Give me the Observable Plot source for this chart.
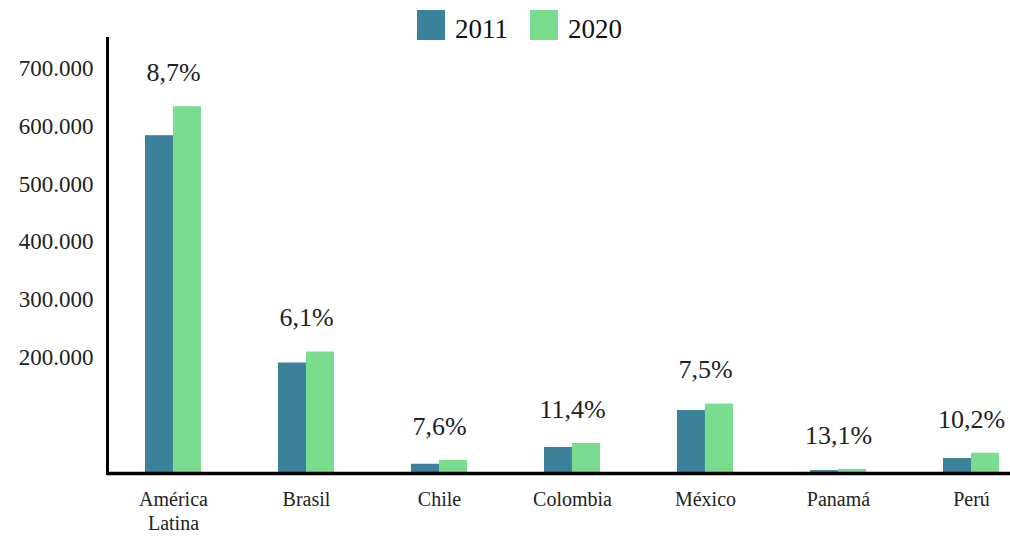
<!DOCTYPE html>
<html>
<head>
<meta charset="utf-8">
<script src="https://cdn.jsdelivr.net/npm/d3@7"></script>
<script src="https://cdn.jsdelivr.net/npm/@observablehq/plot@0.6"></script>
<style>
  html, body { margin: 0; padding: 0; background: #fff; }
  #wrap { position: relative; width: 1010px; height: 537px; }
  #legend { position: absolute; top: 10px; left: 417px; display: flex; align-items: flex-end;
            font-family: 'Liberation Serif', 'Times New Roman', 'DejaVu Serif', serif; font-size: 27px; color: #111; }
  #legend .item { display: flex; align-items: flex-end; margin-right: 22px; }
  #legend .sw { width: 28px; height: 30px; margin-right: 10px; }
  #legend .lab { line-height: 1; margin-bottom: -3px; }
  svg text { font-family: 'Liberation Serif', 'Times New Roman', 'DejaVu Serif', serif; }
</style>
</head>
<body>
<div id="wrap"><div id="legend"></div></div>
<script>
const countries = ["América Latina", "Brasil", "Chile", "Colombia", "México", "Panamá", "Perú"];
const years = ["2011", "2020"];
const values2011 = [584000, 191000, 16000, 45000, 109000, 5000, 26000];
const values2020 = [634000, 210000, 22500, 52000, 120000, 7000, 35000];
const growthLabels = ["8,7%", "6,1%", "7,6%", "11,4%", "7,5%", "13,1%", "10,2%"];
const yTicks = [200000, 300000, 400000, 500000, 600000, 700000];
const colors = ["#3b8199", "#79dc8f"];

const rows2011 = countries.map((c, i) => ({country: c, year: years[0], value: values2011[i]}));
const rows2020 = countries.map((c, i) => ({country: c, year: years[1], value: values2020[i]}));
const labelRows = countries.map((c, i) => ({country: c, top: values2020[i], label: growthLabels[i]}));

const W = 1010, H = 537, mL = 107, mR = 0, mT = 38, mB = 64;
const xOpts = {type: "band", domain: countries, paddingInner: 0.58, paddingOuter: 0.184, align: 0.78};
const bw = Plot.scale({x: {...xOpts, range: [mL, W - mR]}}).bandwidth;

const fmt = d => d3.format(",")(d).replace(/,/g, ".");

const chart = Plot.plot({
  width: W, height: H,
  marginLeft: mL, marginRight: mR, marginTop: mT, marginBottom: mB,
  style: {fontFamily: "'Liberation Serif', 'Times New Roman', 'DejaVu Serif', serif", fontSize: "21px", color: "#222", background: "transparent"},
  x: {...xOpts, axis: null, label: null},
  y: {domain: [0, 752000], axis: null, label: null},
  color: {domain: years, range: colors},
  marks: [
    Plot.barY(rows2011, {x: "country", y: "value", fill: "year", insetRight: bw / 2}),
    Plot.barY(rows2020, {x: "country", y: "value", fill: "year", insetLeft: bw / 2}),
    Plot.frame({anchor: "left", stroke: "#000", strokeWidth: 3}),
    Plot.ruleY([0], {stroke: "#000", strokeWidth: 3.5}),
    Plot.axisY({ticks: yTicks, tickFormat: fmt, tickSize: 0, tickPadding: 14, fontSize: 23, fill: "#222", label: null}),
    Plot.axisX({tickSize: 0, tickPadding: 15, fontSize: 20, fill: "#222", lineHeight: 1.2, label: null,
                tickFormat: d => d.replace(" ", "\n")}),
    Plot.text(labelRows, {x: "country", y: "top", text: "label", dy: -34, fontSize: 26, fill: "#222"})
  ]
});
document.getElementById("wrap").prepend(chart);

const legend = document.getElementById("legend");
years.forEach((y, i) => {
  const item = document.createElement("div");
  item.className = "item";
  const sw = document.createElement("div");
  sw.className = "sw";
  sw.style.background = colors[i];
  const lab = document.createElement("span");
  lab.className = "lab";
  lab.textContent = y;
  item.append(sw, lab);
  legend.append(item);
});
</script>
</body>
</html>
